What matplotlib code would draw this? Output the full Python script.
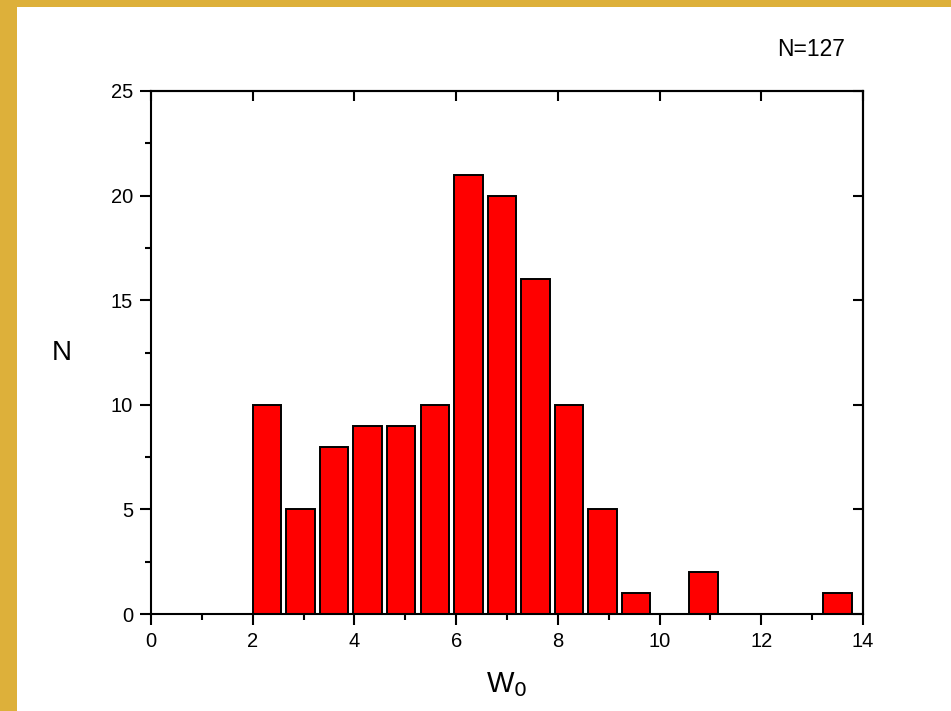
import numpy as np
import matplotlib.pyplot as plt
from matplotlib.patches import Rectangle
from matplotlib.ticker import MultipleLocator

plt.rcParams['font.family'] = ['Liberation Sans', 'DejaVu Sans']

# histogram of W0, bins 0.66 wide starting at 2
bin_left = [2.0, 2.66, 3.32, 3.98, 4.64, 5.30, 5.96, 6.62, 7.28,
            7.94, 8.60, 9.26, 9.92, 10.58, 11.24, 11.90, 12.56, 13.22]
counts = [10, 5, 8, 9, 9, 10, 21, 20, 16, 10, 5, 1, 0, 2, 0, 0, 0, 1]
total = sum(counts)

fig = plt.figure(figsize=(9.51, 7.11), dpi=100)
fig.patch.set_facecolor('white')

# yellow frame along the left and top edge
fig.patches.append(Rectangle((0, 0), 17 / 951, 1, transform=fig.transFigure,
                             facecolor='#DDB03A', edgecolor='none', zorder=0))
fig.patches.append(Rectangle((0, 1 - 7 / 711), 1, 7 / 711, transform=fig.transFigure,
                             facecolor='#DDB03A', edgecolor='none', zorder=0))

ax = fig.add_axes([151 / 951, 97 / 711, 712 / 951, 523 / 711])
ax.bar(bin_left, counts, width=0.56, align='edge', color='#FF0000',
       edgecolor='black', linewidth=1.4, zorder=2)

ax.set_xlim(0, 14)
ax.set_ylim(0, 25)
ax.xaxis.set_major_locator(MultipleLocator(2))
ax.xaxis.set_minor_locator(MultipleLocator(1))
ax.yaxis.set_major_locator(MultipleLocator(5))
ax.yaxis.set_minor_locator(MultipleLocator(2.5))

for s in ax.spines.values():
    s.set_linewidth(1.5)

ax.tick_params(which='major', direction='out', length=8, width=1.5,
               labelsize=14.5, pad=5, top=False, right=False)
ax.tick_params(which='minor', direction='out', length=4, width=1.5,
               top=False, right=False)

# inward major ticks on the top and right frame
top = ax.secondary_xaxis('top')
top.xaxis.set_major_locator(MultipleLocator(2))
top.tick_params(direction='in', length=7, width=1.5, labeltop=False)
top.spines['top'].set_linewidth(1.5)
right = ax.secondary_yaxis('right')
right.yaxis.set_major_locator(MultipleLocator(5))
right.tick_params(direction='in', length=7, width=1.5, labelright=False)
right.spines['right'].set_linewidth(1.5)

ax.set_xlabel('W$_0$', fontsize=21, labelpad=14)
ax.set_ylabel('N', fontsize=20, rotation=0, labelpad=35, va='center')

fig.text(845 / 951, 1 - 50 / 711, 'N=%d' % total, fontsize=16.5,
         ha='right', va='center')

fig.savefig('out.png', dpi=100)
